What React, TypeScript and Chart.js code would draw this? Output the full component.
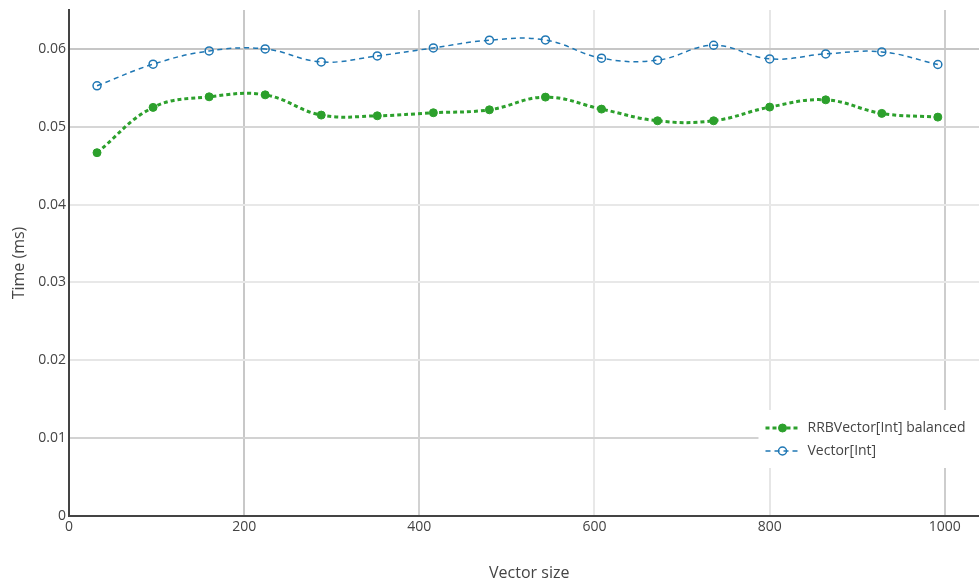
import React, { useEffect, useRef } from "react";
import { Chart, registerables } from "chart.js";

Chart.register(...registerables);

const vectorSizes = [32, 96, 160, 224, 288, 352, 416, 480, 544, 608, 672, 736, 800, 864, 928, 992];
const rrbBalanced = [0.04667, 0.05249, 0.05385, 0.0541, 0.0515, 0.05141, 0.0518, 0.05218, 0.05381, 0.05227, 0.05077, 0.05077, 0.05253, 0.05346, 0.05172, 0.05124];
const vectorInt = [0.05526, 0.05804, 0.05974, 0.0600, 0.05833, 0.0591, 0.06013, 0.06112, 0.06115, 0.05881, 0.05855, 0.06047, 0.05872, 0.05936, 0.05962, 0.058];
const seriesNames = ["RRBVector[Int] balanced", "Vector[Int]"];

const GREEN = "#2ca02c";
const BLUE = "#1f77b4";
const TEXT = "#444444";
const FONT = "'Open Sans', 'Noto Sans', sans-serif";

const xGridShade: Record<string, string> = { "200": "#c8c8c8", "400": "#d2d2d2", "600": "#e8e8e8", "800": "#e6e6e6", "1000": "#cdcdcd" };
const yGridShade: Record<string, string> = { "0.01": "#d2d2d2", "0.02": "#e6e6e6", "0.03": "#e8e8e8", "0.04": "#e8e8e8", "0.05": "#d6d6d6", "0.06": "#c6c6c6" };

const fmtY = (v: any) => String(parseFloat(Number(v).toFixed(3)));

const legendPlugin = {
  id: "boxLegend",
  afterDraw(chart: any) {
    const ctx = chart.ctx;
    const area = chart.chartArea;
    const boxLeft = area.right - 231;
    const boxTop = area.bottom - 106;
    const boxH = 58;
    ctx.save();
    ctx.fillStyle = "#ffffff";
    ctx.fillRect(boxLeft, boxTop, area.right - boxLeft, boxH);
    chart.data.datasets.forEach((ds: any, i: number) => {
      const cy = boxTop + 18 + i * 23;
      const x0 = boxLeft + 7;
      ctx.beginPath();
      ctx.setLineDash(ds.borderDash || []);
      ctx.strokeStyle = ds.borderColor;
      ctx.lineWidth = ds.borderWidth;
      ctx.moveTo(x0, cy);
      ctx.lineTo(x0 + 32, cy);
      ctx.stroke();
      ctx.setLineDash([]);
      ctx.beginPath();
      ctx.arc(x0 + 17, cy, ds.pointRadius, 0, Math.PI * 2);
      if (ds.pointBackgroundColor !== "rgba(0,0,0,0)") {
        ctx.fillStyle = ds.pointBackgroundColor;
        ctx.fill();
      }
      ctx.lineWidth = ds.pointBorderWidth;
      ctx.strokeStyle = ds.pointBorderColor;
      ctx.stroke();
      ctx.fillStyle = TEXT;
      ctx.font = `14px ${FONT}`;
      ctx.textAlign = "left";
      ctx.textBaseline = "middle";
      ctx.fillText(ds.label, x0 + 42, cy);
    });
    ctx.restore();
  },
};

export default function App() {
  const ref = useRef<HTMLCanvasElement | null>(null);
  useEffect(() => {
    if (!ref.current) return;
    const chart = new Chart(ref.current, {
      type: "line",
      data: {
        labels: vectorSizes,
        datasets: [
          {
            label: seriesNames[0],
            data: vectorSizes.map((x, i) => ({ x, y: rrbBalanced[i] })),
            borderColor: GREEN,
            backgroundColor: GREEN,
            borderWidth: 3,
            borderDash: [4, 3],
            tension: 0.4,
            pointRadius: 4,
            pointBackgroundColor: GREEN,
            pointBorderColor: GREEN,
            pointBorderWidth: 1,
          },
          {
            label: seriesNames[1],
            data: vectorSizes.map((x, i) => ({ x, y: vectorInt[i] })),
            borderColor: BLUE,
            backgroundColor: "rgba(0,0,0,0)",
            borderWidth: 1.5,
            borderDash: [5, 4],
            tension: 0.4,
            pointRadius: 4,
            pointBackgroundColor: "rgba(0,0,0,0)",
            pointBorderColor: BLUE,
            pointBorderWidth: 1.5,
          },
        ],
      },
      options: {
        responsive: false,
        animation: false,
        layout: { padding: { top: 10, left: 0, right: 0, bottom: 0 } },
        plugins: { legend: { display: false }, tooltip: { enabled: false } },
        scales: {
          x: {
            type: "linear",
            min: 0,
            max: 1051,
            afterFit: (s: any) => {
              s.height = 67;
              s.paddingRight = 0;
              s.paddingLeft = 0;
            },
            ticks: {
              stepSize: 200,
              includeBounds: false,
              maxRotation: 0,
              padding: 3,
              color: TEXT,
              font: { family: FONT, size: 14 },
              callback: (v: any) => String(v),
            },
            grid: {
              color: (c: any) => xGridShade[String(c.tick ? c.tick.value : "")] || "#dddddd",
              lineWidth: 2,
              drawTicks: false,
            },
            border: { display: true, color: TEXT, width: 2 },
            title: {
              display: true,
              text: "Vector size",
              color: TEXT,
              font: { family: FONT, size: 16 },
              padding: { top: 0, bottom: 0 },
            },
          },
          y: {
            type: "linear",
            min: 0,
            max: 0.065,
            afterFit: (s: any) => {
              s.width = 69;
              s.paddingTop = 0;
              s.paddingBottom = 0;
            },
            ticks: {
              stepSize: 0.01,
              includeBounds: false,
              padding: 3,
              color: TEXT,
              font: { family: FONT, size: 14 },
              callback: fmtY,
            },
            grid: {
              color: (c: any) => yGridShade[c.tick ? fmtY(c.tick.value) : ""] || "#dddddd",
              lineWidth: 2,
              drawTicks: false,
            },
            border: { display: true, color: TEXT, width: 2 },
            title: {
              display: true,
              text: "Time (ms)",
              color: TEXT,
              font: { family: FONT, size: 16 },
              padding: { top: 10, bottom: 0 },
            },
          },
        },
      },
      plugins: [legendPlugin],
    });
    return () => chart.destroy();
  }, []);
  return (
    <div style={{ position: "fixed", left: 0, top: 0, width: 979, height: 583, overflow: "hidden", background: "#fff" }}>
      <canvas ref={ref} width={995} height={583} style={{ display: "block" }} />
    </div>
  );
}
